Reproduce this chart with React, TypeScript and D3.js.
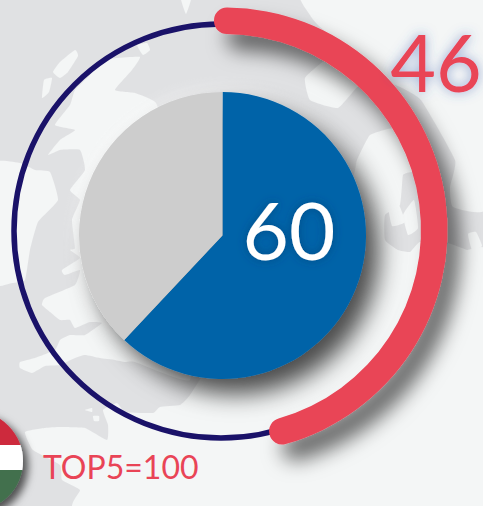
import React from "react";
import * as d3 from "d3";

const pieCategories = ["share", "rest"];
const pieShares = [62, 38];
const pieColors = ["#0264a8", "#cdcdcd"];
const pieLabel = "60";
const gaugeShares = [45.6];
const gaugeLabel = "46";
const baseLabel = "TOP5=100";
const flagStripes = ["#cd2a3e", "#ffffff", "#436f4d"];

const LAND = "#f4f6f6";
const SEA = "#e0e1e3";

const landShapes: [number, number][][] = [
  // Great Britain (west side, the rest lies under the pie)
  [[103,60],[118,58],[140,57],[132,70],[115,90],[135,93],[156,103],[170,150],[190,300],[190,380],[135,362],[125,362],[115,360],[100,358],[85,355],[75,358],[60,365],[45,366],[32,373],[20,368],[20,362],[35,358],[55,350],[60,340],[70,335],[85,335],[102,323],[90,322],[75,328],[70,320],[60,320],[50,312],[42,305],[45,298],[75,285],[80,270],[65,275],[62,270],[80,258],[70,250],[75,248],[72,220],[80,200],[70,190],[85,170],[80,150],[60,150],[48,155],[60,140],[75,130],[55,125],[70,105],[75,90],[90,75]],
  // Ireland
  [[-10,165],[20,163],[35,170],[50,172],[58,200],[38,222],[30,250],[25,280],[12,283],[-10,283]],
  // Continent
  [[25,432],[45,428],[60,427],[85,428],[107,440],[108,425],[103,410],[117,403],[125,412],[153,413],[160,407],[180,405],[190,395],[220,350],[300,260],[345,205],[355,170],[357,160],[370,135],[395,128],[405,150],[420,170],[420,240],[448,243],[467,250],[490,257],[490,515],[85,515],[80,490],[62,480],[60,465],[33,450]],
  // Scandinavia
  [[303,-10],[490,-10],[490,205],[453,207],[450,187],[455,160],[421,100],[395,85],[360,85],[338,108],[310,100],[305,78],[325,60],[345,50],[318,25],[310,15]],
  // Small islands
  [[53,72],[60,62],[75,50],[78,56],[68,72],[60,78]],
  [[42,98],[44,80],[52,78],[49,92]],
  [[137,45],[147,43],[150,50],[143,55]],
  [[180,-5],[192,-5],[186,14]],
  [[85,410],[92,408],[92,412]],
  [[93,416],[99,416],[99,421],[94,421]],
  [[468,234],[476,232],[482,246],[472,250]],
];

const seaShapes: [number, number][][] = [
  // Baltic straits
  [[385,215],[400,205],[403,175],[412,172],[420,170],[430,200],[448,243],[420,242],[410,252],[398,250],[385,240]],
];

const straitIslands: [number, number][][] = [
  [[388,205],[398,203],[405,222],[392,226]],
  [[403,215],[414,200],[418,228],[408,235]],
];

const polygon = d3.line().curve(d3.curveCardinalClosed.tension(0.6));

export default function App() {
  const pie = d3.pie<number>().sort(null)(pieShares);
  const pieArc = d3.arc<d3.PieArcDatum<number>>().innerRadius(0).outerRadius(143.5);
  const gaugeAngle = d3.scaleLinear().domain([0, 100]).range([0, 2 * Math.PI]);
  const capShare = 0.99;
  const gaugeD = d3.arc().cornerRadius(13)({
    innerRadius: 196,
    outerRadius: 222.5,
    startAngle: gaugeAngle(0.15 - capShare),
    endAngle: gaugeAngle(gaugeShares[0] + capShare),
  }) as string;

  return (
    <svg
      width={483}
      height={506}
      style={{ position: "absolute", left: 0, top: 0, display: "block" }}
      fontFamily="Lato, 'Open Sans', sans-serif"
    >
      <defs>
        <filter id="pieShadow" x="-30%" y="-30%" width="170%" height="170%">
          <feDropShadow dx="13" dy="15" stdDeviation="12" floodColor="#000" floodOpacity="0.7" />
        </filter>
        <filter id="gaugeShadow" x="-30%" y="-30%" width="170%" height="170%">
          <feDropShadow dx="13" dy="16" stdDeviation="10" floodColor="#000" floodOpacity="0.58" />
        </filter>
        <filter id="flagShadow" x="-30%" y="-30%" width="170%" height="170%">
          <feDropShadow dx="5" dy="5" stdDeviation="4" floodColor="#000" floodOpacity="0.65" />
        </filter>
        <filter id="glowWhite" x="-30%" y="-30%" width="160%" height="160%">
          <feGaussianBlur stdDeviation="7" />
        </filter>
        <filter id="soft" x="-5%" y="-5%" width="110%" height="110%">
          <feGaussianBlur stdDeviation="0.5" />
        </filter>
        <filter id="glow46" x="-40%" y="-40%" width="180%" height="180%">
          <feDropShadow dx="0" dy="0" stdDeviation="6" floodColor="#3f62b0" floodOpacity="0.55" />
        </filter>
        <filter id="glow60" x="-40%" y="-40%" width="180%" height="180%">
          <feDropShadow dx="0" dy="0" stdDeviation="5" floodColor="#003d70" floodOpacity="0.6" />
        </filter>
        <clipPath id="flagClip">
          <circle cx={-27} cy={461} r={50} />
        </clipPath>
      </defs>

      <rect width={483} height={506} fill={SEA} />
      <g filter="url(#soft)">
        {landShapes.map((s, i) => (
          <path key={i} d={polygon(s) as string} fill={LAND} />
        ))}
        {seaShapes.map((s, i) => (
          <path key={i} d={polygon(s) as string} fill={SEA} />
        ))}
        {straitIslands.map((s, i) => (
          <path key={i} d={polygon(s) as string} fill={LAND} />
        ))}
      </g>

      <circle cx={222.5} cy={235.5} r={148} fill="#fff" opacity={0.5} filter="url(#glowWhite)" />

      <circle cx={221} cy={231} r={207} fill="none" stroke="#1a1269" strokeWidth={5.5} />

      <g filter="url(#gaugeShadow)">
        <path d={gaugeD} transform="translate(225,230)" fill="#e94456" />
      </g>

      <g filter="url(#pieShadow)" transform="translate(222.5,235.5)">
        {pie.map((d, i) => (
          <path key={pieCategories[i]} d={pieArc(d) as string} fill={pieColors[i]} />
        ))}
      </g>

      <text x={289} y={260} textAnchor="middle" fontSize={80} fill="#fff" filter="url(#glow60)">
        {pieLabel}
      </text>
      <text x={436} y={92} textAnchor="middle" fontSize={79} fill="#e94456" filter="url(#glow46)">
        {gaugeLabel}
      </text>
      <text x={43} y={479} fontSize={32} fill="#e94456">
        {baseLabel}
      </text>

      <g filter="url(#flagShadow)">
        <g clipPath="url(#flagClip)">
          {flagStripes.map((c, i) => (
            <rect key={c} x={-80} y={[411, 445, 470][i]} width={110} height={[34, 25, 42][i]} fill={c} />
          ))}
        </g>
      </g>
    </svg>
  );
}
